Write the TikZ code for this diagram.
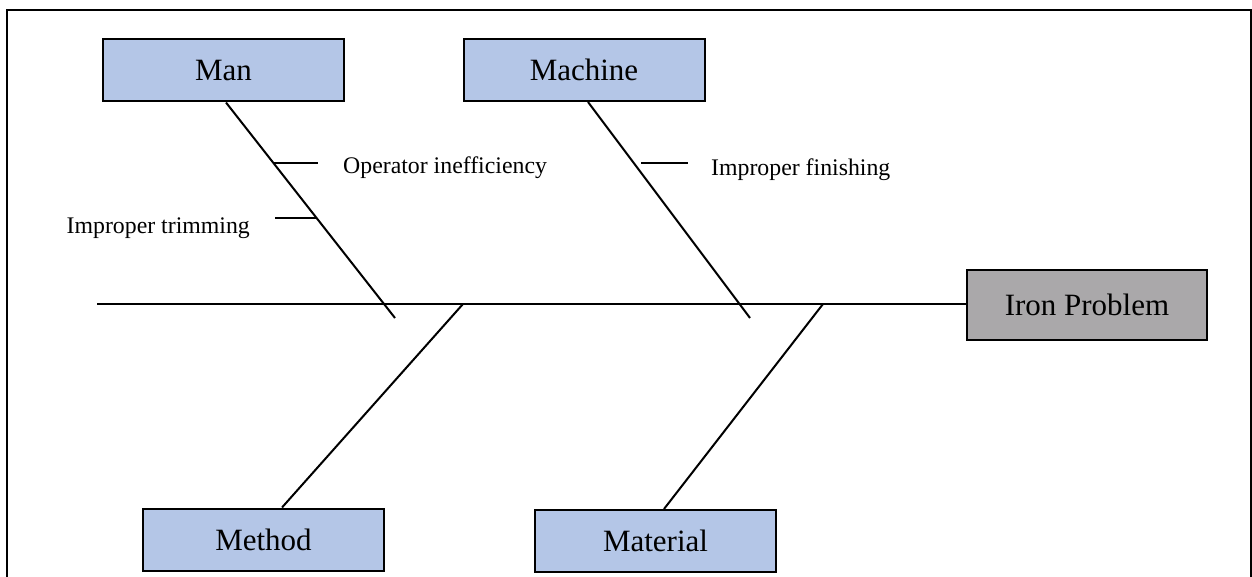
\documentclass[tikz,border=0pt]{standalone}
\usepackage{fontspec}
\setmainfont{Liberation Serif}
\usetikzlibrary{calc}
\definecolor{causefill}{RGB}{180,198,231}
\definecolor{effectfill}{RGB}{170,168,170}
\tikzset{
  causebox/.style={draw=black, line width=2pt, fill=causefill, inner sep=0pt,
    minimum width=241pt, minimum height=62pt,
    font=\fontsize{31}{36}\selectfont},
  effectbox/.style={causebox, fill=effectfill, minimum width=240pt, minimum height=70pt},
  bone/.style={draw=black, line width=2pt},
  tick/.style={draw=black, line width=1.2pt},
  cause/.style={inner sep=0pt, anchor=base west, font=\fontsize{23.8}{28}\selectfont},
  frameline/.style={draw=black, line width=1.6pt}
}
\begin{document}
\begin{tikzpicture}[x=1pt, y=-1pt]
  \useasboundingbox (0,0) rectangle (1252,577);
  % outer frame
  \draw[frameline] (7,600) -- (7,10) -- (1251,10) -- (1251,600);

  % category boxes and the effect box
  \node[causebox] (man)      at (223.5,70.5) {Man};
  \node[causebox] (machine)  at (584,70)     {Machine};
  \node[causebox] (method)   at (263.5,539.5) {Method};
  \node[causebox] (material) at (655.5,541)  {Material};
  \node[effectbox] (effect)  at (1087,305)   {Iron Problem};

  % spine
  \coordinate (tail) at (97,304);
  \draw[bone] (tail) -- (effect.west |- tail);

  % bones
  \coordinate (manEnd) at (395,318);
  \coordinate (machineEnd) at (750,318);
  \coordinate (methodJoint) at (463,304);
  \coordinate (materialJoint) at (823,304);
  \draw[bone] ($(man.south)+(2.5,0)$) -- (manEnd);
  \draw[bone] ($(machine.south)+(4,0)$) -- (machineEnd);
  \draw[bone] ($(method.north)+(18.5,0)$) -- (methodJoint);
  \draw[bone] ($(material.north)+(8.5,0)$) -- (materialJoint);

  % sub-causes
  \coordinate (oiA) at (274,163); \coordinate (oiB) at (318,163);
  \coordinate (itA) at (275,218); \coordinate (itB) at (317,218);
  \coordinate (ifA) at (641,163); \coordinate (ifB) at (688,163);
  \draw[tick] (oiA) -- (oiB);
  \draw[tick] (itA) -- (itB);
  \draw[tick] (ifA) -- (ifB);
  \node[cause] (oi) at (343,174) {Operator inefficiency};
  \node[cause, anchor=base east] (it) at (250,234) {Improper trimming};
  \node[cause] (if) at (711,175.5) {Improper finishing};
\end{tikzpicture}
\end{document}
